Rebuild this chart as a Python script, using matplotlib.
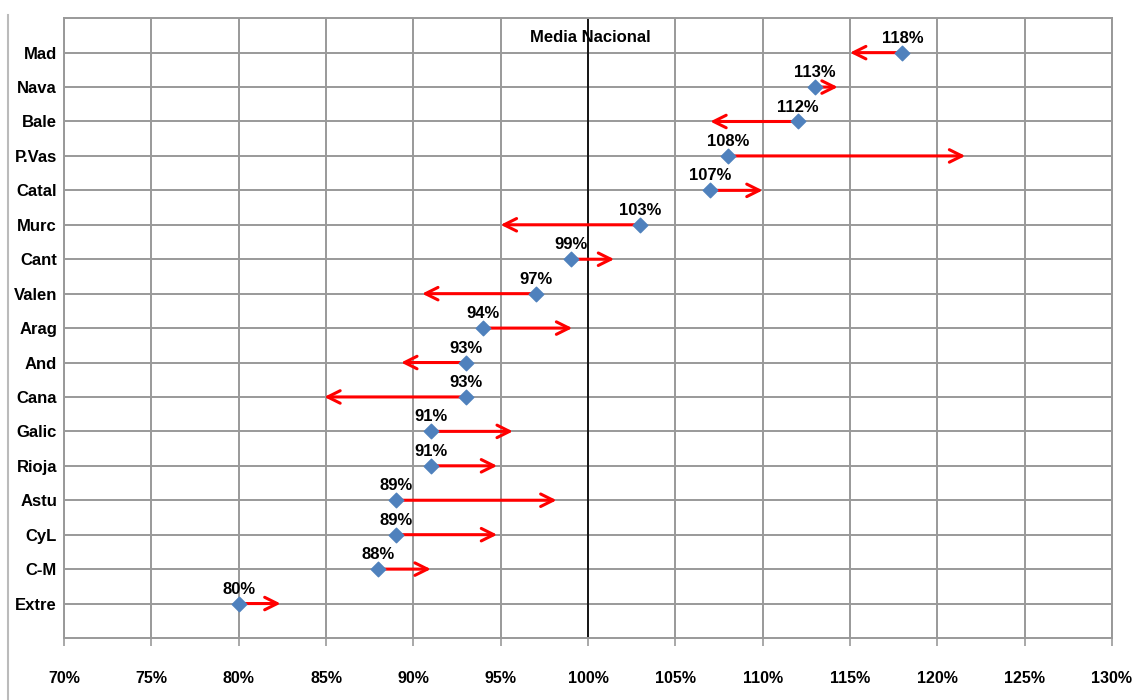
import matplotlib.pyplot as plt
from matplotlib.lines import Line2D
from matplotlib.ticker import FuncFormatter

# Datos por comunidad (de arriba a abajo)
regiones = ['Mad', 'Nava', 'Bale', 'P.Vas', 'Catal', 'Murc', 'Cant', 'Valen', 'Arag',
            'And', 'Cana', 'Galic', 'Rioja', 'Astu', 'CyL', 'C-M', 'Extre']
valor = [118, 113, 112, 108, 107, 103, 99, 97, 94, 93, 93, 91, 91, 89, 89, 88, 80]
destino = [115.0, 114.3, 107.0, 121.6, 110.0, 95.0, 101.5, 90.5, 99.1,
           89.3, 84.9, 95.7, 94.8, 98.2, 94.8, 91.0, 82.4]
media_nacional = 100
xticks = [70, 75, 80, 85, 90, 95, 100, 105, 110, 115, 120, 125, 130]

plt.rcParams['font.family'] = ['Liberation Sans', 'DejaVu Sans']

fig = plt.figure(figsize=(11.37, 7.0), dpi=100)
ax = fig.add_axes([0.0563, 0.0886, 0.9217, 0.8854])

n = len(regiones)
ypos = list(range(n, 0, -1))

# Lineas horizontales de la cuadricula
for y in range(1, n + 1):
    ax.axhline(y, color='#999999', lw=1.4, zorder=1)

# Flechas
for v, d, y in zip(valor, destino, ypos):
    ax.annotate('', xy=(d, y), xytext=(v, y),
                arrowprops=dict(arrowstyle='->,head_length=0.9,head_width=0.45',
                                color='#ff0000', lw=2.2, shrinkA=0, shrinkB=0),
                zorder=3)

ax.scatter(valor, ypos, marker='D', s=55, color='#4f81bd', zorder=4)

for v, y in zip(valor, ypos):
    ax.annotate(f'{v}%', (v, y), xytext=(0, 5), textcoords='offset points',
                ha='center', va='bottom', fontsize=12, fontweight='bold', zorder=5)

ax.axvline(media_nacional, color='black', lw=1.2, zorder=2)
ax.text(media_nacional + 0.15, n + 0.45, 'Media Nacional', ha='center', va='center',
        fontsize=12, fontweight='bold', zorder=5)

ax.set_xlim(70, 130)
ax.set_ylim(0, n + 1)
ax.set_xticks(xticks)
ax.xaxis.set_major_formatter(FuncFormatter(lambda x, p: f'{x:.0f}%'))
ax.set_yticks(ypos)
ax.set_yticklabels(regiones)
ax.tick_params(axis='y', length=0, pad=5, labelsize=12)
ax.tick_params(axis='x', length=6, width=1.2, color='#999999', pad=18, labelsize=11.5)
for lab in ax.get_xticklabels() + ax.get_yticklabels():
    lab.set_fontweight('bold')

ax.grid(True, which='major', axis='x', color='#999999', lw=1.4)
ax.set_axisbelow(True)
for s in ax.spines.values():
    s.set_color('#999999')
    s.set_linewidth(1.4)

fig.add_artist(Line2D([0.007, 0.007], [0.0, 0.978], color='#bbbbbb', lw=1.5))

fig.savefig('out.png', dpi=100)
